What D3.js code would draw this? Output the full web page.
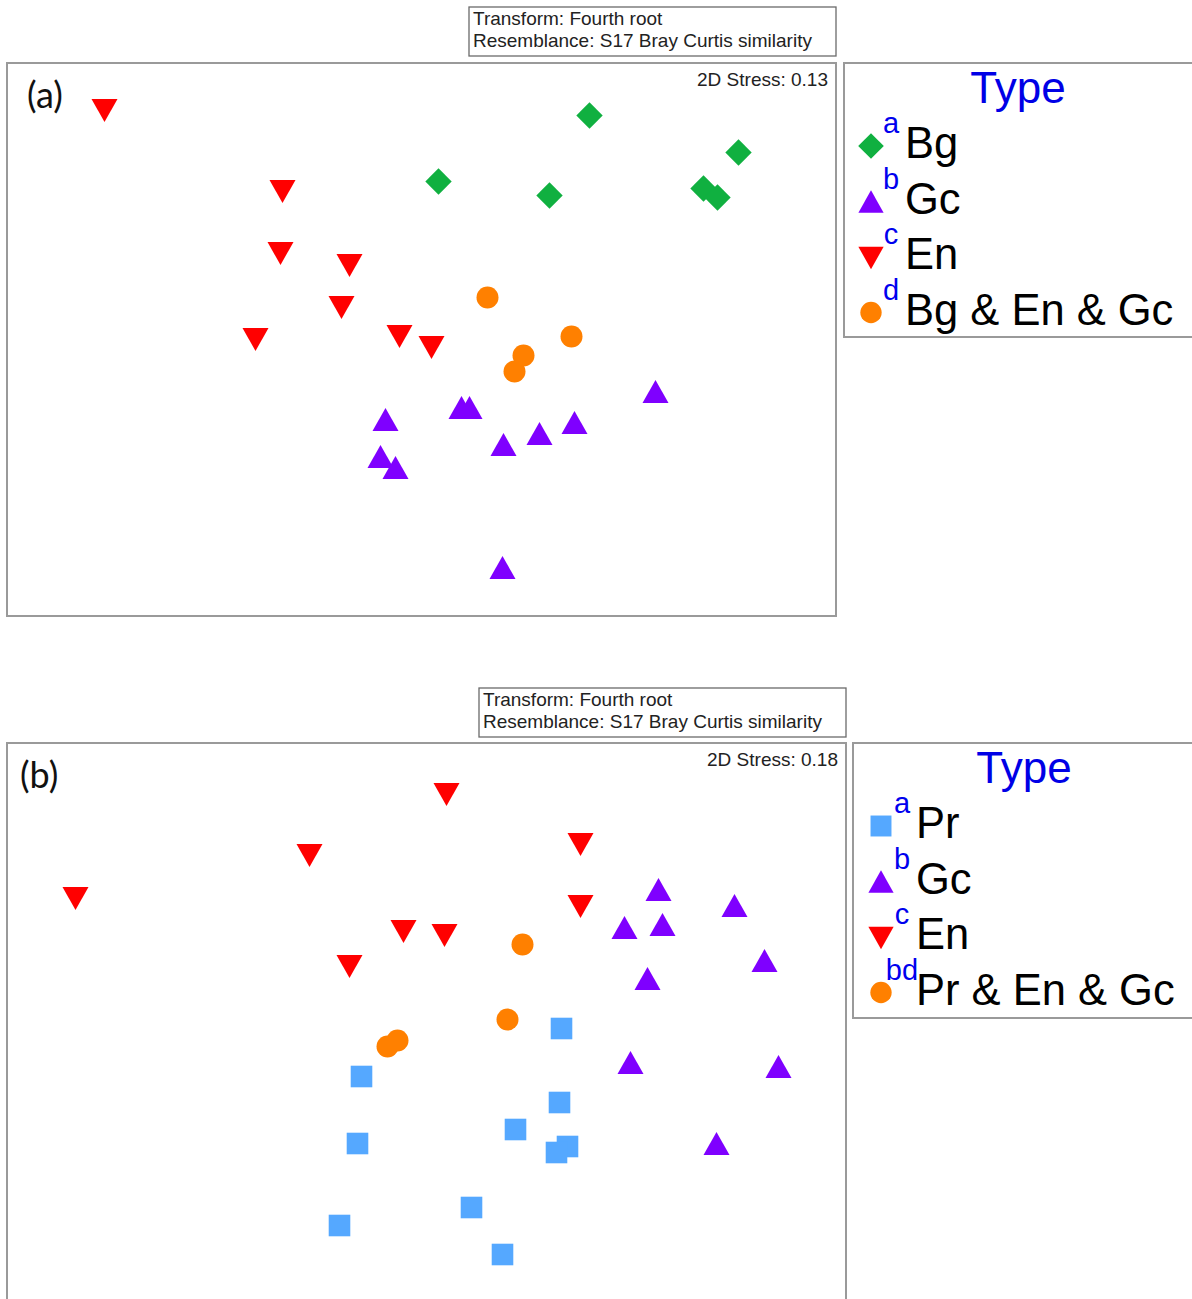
<!DOCTYPE html>
<html>
<head>
<meta charset="utf-8">
<script src="https://cdn.jsdelivr.net/npm/d3@7"></script>
<style>
  body { margin: 0; background: #fff; }
  svg { display: block; }
</style>
</head>
<body>
<svg id="drawing_region"></svg>
<script>
// ---- panel (a): Bg / Gc / En / mix (nMDS coordinates) ----
const typesA = ['Bg', 'Gc', 'En', 'Bg & En & Gc'];
const lettersA = ['a', 'b', 'c', 'd'];
const bgA_x = [1.68, 3.17, 0.17, 1.28, 2.82, 2.96];
const bgA_y = [2.24, 1.87, 1.58, 1.44, 1.51, 1.42];
const gcA_x = [-0.36, 0.40, 0.48, 2.34, 1.53, 1.18, 0.82, -0.41, -0.26, 0.81];
const gcA_y = [-0.80, -0.68, -0.68, -0.52, -0.83, -0.94, -1.05, -1.17, -1.28, -2.28];
const enA_x = [-3.17, -1.39, -1.41, -0.72, -0.80, -1.66, -0.22, 0.10];
const enA_y = [2.29, 1.48, 0.86, 0.74, 0.32, 0.00, 0.03, -0.08];
const mixA_x = [0.66, 1.50, 1.02, 0.93];
const mixA_y = [0.42, 0.03, -0.16, -0.32];

// ---- panel (b): Pr / Gc / En / mix ----
const typesB = ['Pr', 'Gc', 'En', 'Pr & En & Gc'];
const lettersB = ['a', 'b', 'c', 'bd'];
const prB_x = [1.35, -0.65, 1.33, 0.89, -0.69, 1.41, 1.30, 0.45, -0.87, 0.76];
const prB_y = [-0.02, -0.50, -0.76, -1.03, -1.17, -1.20, -1.26, -1.81, -1.99, -2.28];
const gcB_x = [2.32, 3.08, 1.98, 2.36, 3.38, 2.21, 2.04, 3.52, 2.90];
const gcB_y = [1.37, 1.21, 0.99, 1.02, 0.66, 0.48, -0.36, -0.40, -1.17];
const enB_x = [0.20, -1.17, 1.54, -3.51, 1.54, -0.23, 0.18, -0.77];
const enB_y = [2.32, 1.71, 1.82, 1.28, 1.20, 0.95, 0.91, 0.60];
const mixB_x = [0.96, 0.81, -0.29, -0.39];
const mixB_y = [0.82, 0.07, -0.14, -0.20];

const stressA = '0.13';
const stressB = '0.18';

const zip = (xs, ys) => xs.map((x, i) => ({ x: x, y: ys[i] }));

const colors = {
    diamond: '#10b040',
    up: '#7f00ff',
    down: '#ff0000',
    circle: '#ff8000',
    square: '#55a8ff'
};

function shapePath(shape, k) {
    const p = d3.path();
    if (shape == 'diamond') {
        const h = 13.2 * k;
        p.moveTo(0, -h); p.lineTo(h, 0); p.lineTo(0, h); p.lineTo(-h, 0); p.closePath();
    } else if (shape == 'up') {
        const w = 13 * k, h = 11.5 * k;
        p.moveTo(0, -h); p.lineTo(w, h); p.lineTo(-w, h); p.closePath();
    } else if (shape == 'down') {
        const w = 13 * k, h = 11.5 * k;
        p.moveTo(-w, -h); p.lineTo(w, -h); p.lineTo(0, h); p.closePath();
    } else if (shape == 'circle') {
        p.arc(0, 0, 11 * k, 0, 2 * Math.PI);
    } else {
        const s = 10.8 * k;
        p.rect(-s, -s, 2 * s, 2 * s);
    }
    return p.toString();
}

const svg = d3.select('#drawing_region')
    .attr('width', 1192)
    .attr('height', 1299);

svg.append('rect').attr('width', 1192).attr('height', 1299).attr('fill', '#fff');

class NmdsPlot {

    constructor(config, groups) {
        this.config = config;
        this.groups = groups;
        this.init();
    }

    init() {
        let self = this;
        const c = self.config;
        self.g = svg.append('g');

        self.xscale = d3.scaleLinear()
            .domain(c.xdomain)
            .range([c.frame.left, c.frame.right]);

        self.yscale = d3.scaleLinear()
            .domain(c.ydomain)
            .range([c.frame.bottom, c.frame.top]);
    }

    render() {
        let self = this;
        const c = self.config;
        const f = c.frame;

        // header box
        self.g.append('rect')
            .attr('x', c.header.x).attr('y', c.header.y)
            .attr('width', c.header.w).attr('height', c.header.h)
            .attr('fill', '#fff').attr('stroke', '#6a6a6a').attr('stroke-width', 1.3);
        self.g.append('text')
            .attr('x', c.header.x + 4).attr('y', c.header.y + 18)
            .attr('font-family', 'Liberation Sans, Arial, sans-serif')
            .attr('font-size', '19px').attr('fill', '#222')
            .text('Transform: Fourth root');
        self.g.append('text')
            .attr('x', c.header.x + 4).attr('y', c.header.y + 40)
            .attr('font-family', 'Liberation Sans, Arial, sans-serif')
            .attr('font-size', '19px').attr('fill', '#222')
            .text('Resemblance: S17 Bray Curtis similarity');

        // plot frame
        self.g.append('rect')
            .attr('x', f.left).attr('y', f.top)
            .attr('width', f.right - f.left).attr('height', f.bottom - f.top)
            .attr('fill', '#fff').attr('stroke', '#9a9a9a').attr('stroke-width', 2);

        self.g.append('text')
            .attr('x', f.right - 8).attr('y', f.top + 23)
            .attr('text-anchor', 'end')
            .attr('font-family', 'Liberation Sans, Arial, sans-serif')
            .attr('font-size', '19px').attr('fill', '#222')
            .text('2D Stress: ' + c.stress);

        self.g.append('text')
            .attr('x', c.labelX).attr('y', f.top + 45)
            .attr('font-family', 'Lato, Carlito, sans-serif')
            .attr('font-size', '36px').attr('fill', '#111')
            .text(c.label);

        // points
        self.groups.forEach(grp => {
            self.g.append('g').selectAll('path')
                .data(grp.points)
                .join('path')
                .attr('d', shapePath(grp.shape, 1))
                .attr('transform', d => `translate(${self.xscale(d.x)},${self.yscale(d.y)})`)
                .attr('fill', colors[grp.shape]);
        });

        // legend
        const L = c.legend;
        self.g.append('rect')
            .attr('x', L.x).attr('y', L.y)
            .attr('width', 1200 - L.x).attr('height', L.h)
            .attr('fill', '#fff').attr('stroke', '#9a9a9a').attr('stroke-width', 2);
        self.g.append('text')
            .attr('x', L.titleX).attr('y', L.y + 40)
            .attr('text-anchor', 'middle')
            .attr('font-family', 'Liberation Sans, Arial, sans-serif')
            .attr('font-size', '44px').attr('fill', '#0000e6')
            .text('Type');

        const rows = self.g.append('g').selectAll('g')
            .data(self.groups)
            .join('g')
            .attr('transform', (d, i) => `translate(0,${L.y + 95 + i * 55.5})`);
        rows.append('path')
            .attr('d', d => shapePath(d.shape, 0.97))
            .attr('transform', (d, i) => `translate(${L.markX},${i == 2 ? -11 : -12})`)
            .attr('fill', d => colors[d.shape]);
        rows.append('text')
            .attr('x', L.textX).attr('y', 0)
            .attr('font-family', 'Liberation Sans, Arial, sans-serif')
            .attr('font-size', '43.5px').attr('fill', '#000')
            .text(d => d.name);
        rows.append('text')
            .attr('x', L.textX - 14).attr('y', -25)
            .attr('text-anchor', 'middle')
            .attr('font-family', 'Liberation Sans, Arial, sans-serif')
            .attr('font-size', '29px').attr('fill', '#0000ee')
            .text(d => d.letter);
    }
}

const panelA = new NmdsPlot({
    frame: { left: 7, top: 63, right: 836, bottom: 616 },
    xdomain: [-4.145, 4.145],
    ydomain: [-2.765, 2.765],
    header: { x: 469, y: 7, w: 367, h: 49 },
    legend: { x: 844, y: 63, h: 274, titleX: 1018, markX: 871, textX: 905 },
    stress: stressA,
    label: '(a)',
    labelX: 27
}, [
    { name: typesA[0], letter: lettersA[0], shape: 'diamond', points: zip(bgA_x, bgA_y) },
    { name: typesA[1], letter: lettersA[1], shape: 'up', points: zip(gcA_x, gcA_y) },
    { name: typesA[2], letter: lettersA[2], shape: 'down', points: zip(enA_x, enA_y) },
    { name: typesA[3], letter: lettersA[3], shape: 'circle', points: zip(mixA_x, mixA_y) }
]);
panelA.render();

const panelB = new NmdsPlot({
    frame: { left: 7, top: 743, right: 846, bottom: 1310 },
    xdomain: [-4.195, 4.195],
    ydomain: [-2.835, 2.835],
    header: { x: 479, y: 688, w: 367, h: 49 },
    legend: { x: 853, y: 743, h: 275, titleX: 1024, markX: 881, textX: 916 },
    stress: stressB,
    label: '(b)',
    labelX: 20
}, [
    { name: typesB[0], letter: lettersB[0], shape: 'square', points: zip(prB_x, prB_y) },
    { name: typesB[1], letter: lettersB[1], shape: 'up', points: zip(gcB_x, gcB_y) },
    { name: typesB[2], letter: lettersB[2], shape: 'down', points: zip(enB_x, enB_y) },
    { name: typesB[3], letter: lettersB[3], shape: 'circle', points: zip(mixB_x, mixB_y) }
]);
panelB.render();
</script>
</body>
</html>
